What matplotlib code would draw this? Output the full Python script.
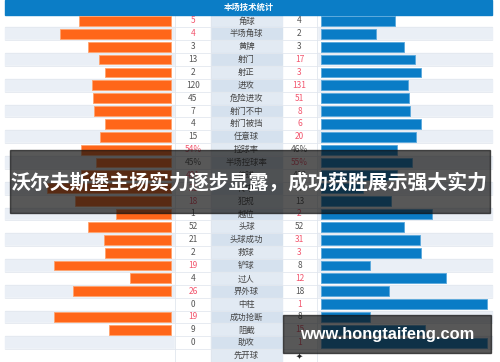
import matplotlib
matplotlib.use("Agg")
import matplotlib.pyplot as plt
from matplotlib.patches import Rectangle

plt.rcParams['font.family'] = ['Noto Sans CJK SC', 'DejaVu Sans']

title = "本场技术统计"
labels = ['角球', '半场角球', '黄牌', '射门', '射正', '进攻', '危险进攻', '射门不中',
          '射门被挡', '任意球', '控球率', '半场控球率', '传球', '传中', '犯规', '越位',
          '头球', '头球成功', '救球', '铲球', '过人', '界外球', '中柱', '成功抢断',
          '阻截', '助攻', '先开球']
home = [5, 4, 3, 13, 2, 120, 45, 7, 4, 15, 54, 45, 491, 21, 18, 1,
        52, 21, 2, 19, 4, 26, 0, 19, 9, 0, None]
away = [4, 2, 3, 17, 3, 131, 51, 8, 6, 20, 46, 55, 412, 7, 13, 2,
        52, 31, 3, 8, 12, 18, 1, 8, 15, 1, None]
pct_rows = ['控球率', '半场控球率']
banner = "沃尔夫斯堡主场实力逐步显露，成功获胜展示强大实力"
watermark = "www.hongtaifeng.com"

W, H = 500, 362
fig = plt.figure(figsize=(5.0, 3.62), dpi=100)
ax = fig.add_axes([0, 0, 1, 1])
ax.set_xlim(0, W)
ax.set_ylim(H, 0)
ax.axis('off')

X0, X1 = 5, 492
LBAR_END = 171
RBAR_START = 321
BAR_SPAN = 166
NUM_L = (175, 211)
LAB = (211, 282)
NUM_R = (282, 317)
HEAD_H = 14.5
n = len(labels)
RH = (H - HEAD_H) / n

ORANGE = '#ff6619'
BLUE = '#0a7cc6'
RED = '#f2566e'
GRAY = '#555555'

# header
ax.add_patch(Rectangle((X0, 0), X1 - X0, HEAD_H, color='#0b7dc6', zorder=1))
ax.text((X0 + X1) / 2, HEAD_H / 2, title, color='white', fontsize=6,
        fontweight='bold', ha='center', va='center', zorder=5)

for i, lab in enumerate(labels):
    y0 = HEAD_H + i * RH
    yc = y0 + RH / 2
    stripe = '#ffffff' if i % 2 == 0 else '#eaeff6'
    labbg = '#e2eaf3' if i % 2 == 0 else '#d5e1ee'
    ax.add_patch(Rectangle((X0, y0), X1 - X0, RH, color=stripe, zorder=0))
    ax.add_patch(Rectangle((NUM_L[0], y0), NUM_L[1] - NUM_L[0], RH, color='#ffffff', zorder=0.5))
    ax.add_patch(Rectangle((NUM_R[0], y0), NUM_R[1] - NUM_R[0], RH, color='#ffffff', zorder=0.5))
    ax.add_patch(Rectangle((LAB[0], y0), LAB[1] - LAB[0], RH, color=labbg, zorder=0.5))
    ax.plot([X0, X1], [y0 + RH, y0 + RH], color='#e3e8ef', lw=0.6, zorder=0.6)
    ax.text((LAB[0] + LAB[1]) / 2, yc, lab, fontsize=6, color='#444444',
            ha='center', va='center', zorder=5)
    h, a = home[i], away[i]
    if h is None:
        ax.text((NUM_R[0] + NUM_R[1]) / 2, yc, '✦', fontsize=6, color='#222222',
                ha='center', va='center', family='DejaVu Sans', zorder=5)
        continue
    tot = h + a
    lh = h / tot * BAR_SPAN if tot else 0
    la = a / tot * BAR_SPAN if tot else 0
    if lh > 0:
        ax.barh(yc, -lh, left=LBAR_END, height=9.8, color=ORANGE,
                edgecolor='#ffa36e', linewidth=0.6, zorder=2)
    if la > 0:
        ax.barh(yc, la, left=RBAR_START, height=9.8, color=BLUE,
                edgecolor='#5aa8dc', linewidth=0.6, zorder=2)
    suf = '%' if lab in pct_rows else ''
    ch = RED if h > a else GRAY
    ca = RED if a > h else GRAY
    ax.text((NUM_L[0] + NUM_L[1]) / 2, yc, f"{h}{suf}", fontsize=6, color=ch,
            ha='center', va='center', zorder=5)
    ax.text((NUM_R[0] + NUM_R[1]) / 2, yc, f"{a}{suf}", fontsize=6, color=ca,
            ha='center', va='center', zorder=5)

# column separators
for x in [NUM_L[0], NUM_L[1], NUM_R[1]]:
    ax.plot([x, x], [HEAD_H, H], color='#e0e6ee', lw=0.6, zorder=0.7)

# banner overlay
ax.add_patch(Rectangle((10, 150), 480, 63, color='#111111', alpha=0.7, zorder=10))
ax.text(249, 182, banner, color='white', fontsize=14.3, fontweight='bold',
        ha='center', va='center', zorder=11)

# watermark
ax.add_patch(Rectangle((283, 315), 208, 38, color='#111111', alpha=0.7, zorder=10))
ax.text(387, 334, watermark, color='white', fontsize=11.8, fontweight='bold',
        family='Liberation Sans', ha='center', va='center', zorder=11)

fig.savefig('out.png', dpi=100)
